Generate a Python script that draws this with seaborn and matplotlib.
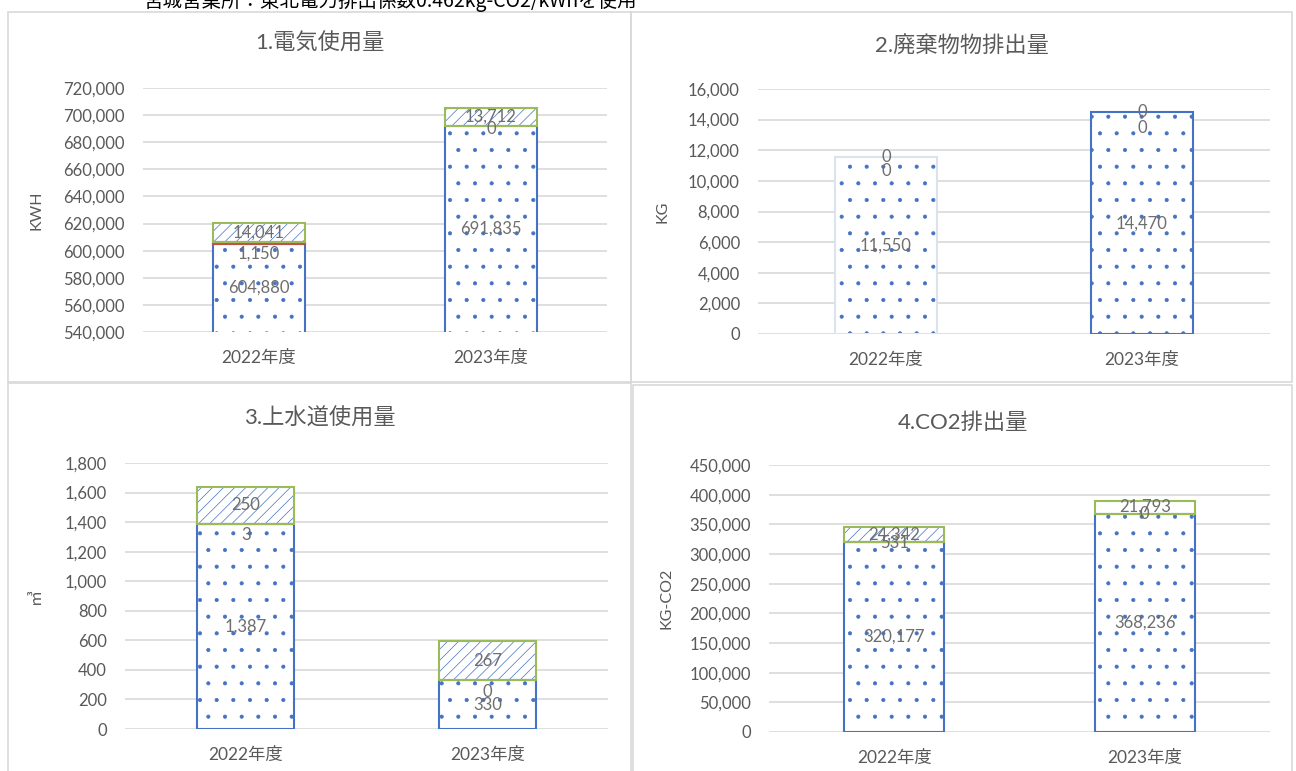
import matplotlib
matplotlib.use("Agg")
import matplotlib.pyplot as plt
import seaborn as sb
from matplotlib.patches import Rectangle
from matplotlib.ticker import FuncFormatter


years = ['2022年度', '2023年度']

# 1. electricity (kWh)
elec_s1 = [604880, 691835]
elec_s2 = [1150, 0]
elec_s3 = [14041, 13712]

# 2. waste (kg)
waste_s1 = [11550, 14470]
waste_s2 = [0, 0]
waste_s3 = [0, 0]

# 3. water (m3)
water_s1 = [1387, 330]
water_s2 = [3, 0]
water_s3 = [250, 267]

# 4. CO2 (kg-CO2)
co2_s1 = [320177, 368236]
co2_s2 = [531, 0]
co2_s3 = [24342, 21793]

titles = ['1.電気使用量', '2.廃棄物物排出量', '3.上水道使用量', '4.CO2排出量']
ylabels = ['KWH', 'KG', '㎥', 'KG-CO2']
note = '宮城営業所：東北電力排出係数0.462kg-CO2/kWhを使用'


sb.set_style("white")
plt.rcParams['font.family'] = ['Lato', 'Noto Sans CJK JP', 'DejaVu Sans']
plt.rcParams['hatch.linewidth'] = 0.5

W, H = 1296, 771
GREY = '#595959'
LABEL = '#6E6E6E'
BLUE = '#4472C4'
EDGES = ['#4472C4', '#C0504D', '#9BBB59']
HATCHES = ['.', '.', '///']

fig = plt.figure(figsize=(W / 100, H / 100), dpi=100)


def px_rect(x0, y0, x1, y1):
    return [x0 / W, 1 - y1 / H, (x1 - x0) / W, (y1 - y0) / H]


# panel frames, axes boxes, title y, ylabel x (all pixels)
panels = [
    dict(frame=(8, 12, 631, 382), box=(143, 88, 607, 332), ty=43, lx=44,
         ylim=(540000, 720000, 20000), data=(elec_s1, elec_s2, elec_s3), dy2=(10, 3)),
    dict(frame=(631, 12, 1292, 382), box=(758, 89, 1270, 334), ty=45, lx=670,
         ylim=(0, 16000, 2000), data=(waste_s1, waste_s2, waste_s3), dy2=(14, 16)),
    dict(frame=(8, 383, 631, 775), box=(125, 463, 608, 729), ty=418, lx=43,
         ylim=(0, 1800, 200), data=(water_s1, water_s2, water_s3), dy2=(11, 12)),
    dict(frame=(633, 385, 1292, 775), box=(769, 465, 1270, 732), ty=423, lx=673,
         ylim=(0, 450000, 50000), data=(co2_s1, co2_s2, co2_s3), dy2=(1, 0)),
]

for i, p in enumerate(panels):
    fx0, fy0, fx1, fy1 = p['frame']
    fig.patches.append(Rectangle((fx0 / W, 1 - fy1 / H), (fx1 - fx0) / W, (fy1 - fy0) / H,
                                 transform=fig.transFigure, fill=False,
                                 edgecolor='#D9D9D9', linewidth=1.2))
    fig.text((fx0 + fx1) / 2 / W, 1 - p['ty'] / H, titles[i], ha='center', va='center',
             fontsize=16, color=GREY)

    ax = fig.add_axes(px_rect(*p['box']))
    lo, hi, step = p['ylim']

    bottom = [0, 0]
    for k, vals in enumerate(p['data']):
        sb.barplot(x=years, y=vals, bottom=bottom, order=years, color='white',
                   edgecolor=BLUE, linewidth=0, hatch=HATCHES[k], width=0.4,
                   errorbar=None, ax=ax, zorder=2)
        if i == 3 and k == 2:
            ax.containers[-1][1].set_hatch('.')
        sb.barplot(x=years, y=vals, bottom=bottom, order=years, color='white',
                   facecolor='none', edgecolor=EDGES[k], linewidth=1.5, width=0.4,
                   errorbar=None, ax=ax, zorder=3)
        # empty segments get no outline
        for bar, v in zip(ax.containers[-1], vals):
            if v == 0:
                bar.set_visible(False)
        if i == 1 and k == 0:
            ax.containers[-1][0].set_edgecolor('#DCE3EE')
        for j in range(len(years)):
            seg_lo = max(bottom[j], lo)
            seg_hi = bottom[j] + vals[j]
            dy = -p['dy2'][j] if k == 1 else 0
            ax.annotate(f'{vals[j]:,}', xy=(j, (seg_lo + seg_hi) / 2),
                        xytext=(0, dy * 0.72), textcoords='offset points',
                        ha='center', va='center', fontsize=12, color=LABEL, zorder=5)
        bottom = [b + v for b, v in zip(bottom, vals)]

    ax.set_xlim(-0.5, 1.5)
    ax.set_ylim(lo, hi)
    ax.set_yticks(range(lo, hi + 1, step))
    ax.yaxis.set_major_formatter(FuncFormatter(lambda v, _: f'{v:,.0f}'))
    ax.grid(axis='y', color='#D9D9D9', linewidth=1.2, zorder=0)
    ax.set_axisbelow(True)
    for s in ax.spines.values():
        s.set_visible(False)
    ax.tick_params(axis='both', length=0, labelcolor=GREY)
    ax.tick_params(axis='x', pad=13, labelsize=12.5)
    ax.tick_params(axis='y', pad=13, labelsize=12)
    ax.set_xlabel('')
    ax.set_ylabel(ylabels[i], fontsize=11.5, color=GREY)
    bx0, by0, bx1, by1 = p['box']
    ax.yaxis.set_label_coords((p['lx'] - bx0) / (bx1 - bx0), 0.5)

fig.text(143 / W, 1 - 1.0 / H, note, ha='left', va='center', fontsize=14,
         color='black', family=['Noto Sans CJK JP', 'DejaVu Sans'])

plt.savefig('out.png', dpi=100)
